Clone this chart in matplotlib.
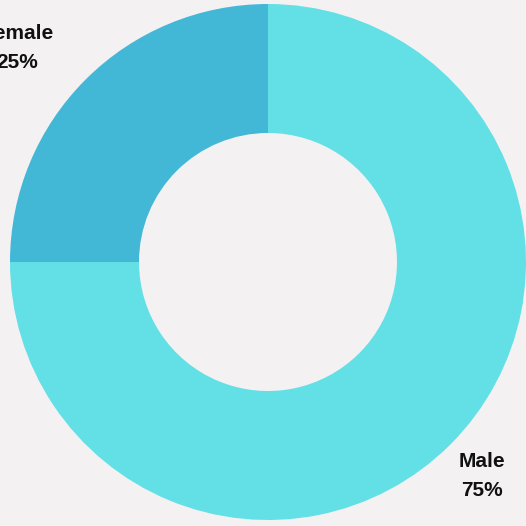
import numpy as np
import matplotlib
matplotlib.use("Agg")
import matplotlib.pyplot as plt

categories = ["Female", "Male"]
shares = [25, 75]
colors = ["#42b8d6", "#63e0e6"]
bg = "#f3f1f2"

fig = plt.figure(figsize=(5.26, 5.26), dpi=100, facecolor=bg)
ax = fig.add_axes([0, 0, 1, 1])
ax.set_facecolor(bg)

wedges, _ = ax.pie(shares, colors=colors, startangle=90, counterclock=True,
                   radius=1.0, wedgeprops=dict(width=0.5, linewidth=0))

# labels placed outside each wedge, along its mid angle
for w, name, val in zip(wedges, categories, shares):
    mid = np.deg2rad((w.theta1 + w.theta2) / 2)
    r = 1.175
    x, y = r * np.cos(mid), r * np.sin(mid)
    ha = "right" if x < 0 else "center"
    ax.text(x, y, f"{name}\n{val}%",
            ha=ha, va="center", fontsize=15, fontweight="bold",
            family="Liberation Sans", color="#111111", linespacing=1.65,
            multialignment="center")

ax.set_xlim(-268 / 258, 258 / 258)
ax.set_ylim(-264 / 258, 262 / 258)
ax.set_aspect("equal")
ax.axis("off")

fig.savefig("out.png", dpi=100, facecolor=bg)
